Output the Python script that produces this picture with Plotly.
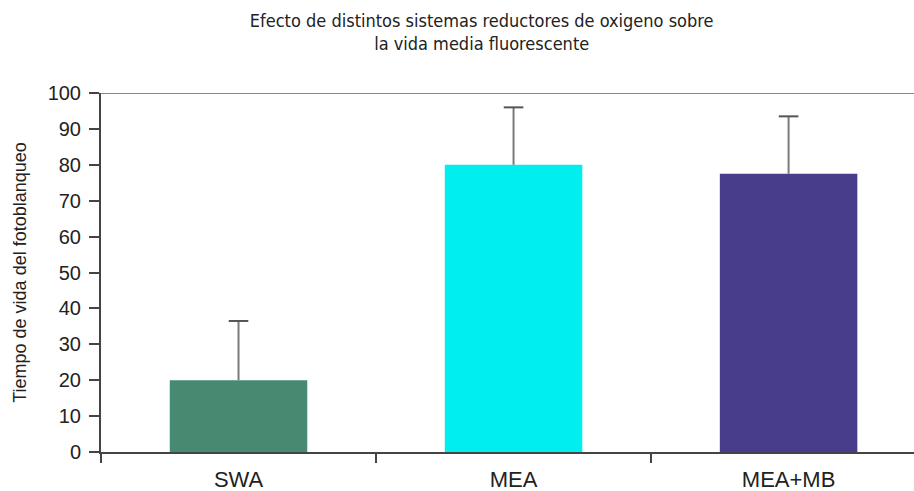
import plotly.graph_objects as go

# Oxygen-scavenging systems and their photobleaching lifetimes
categories = ["SWA", "MEA", "MEA+MB"]
values = [20, 80, 77.5]
errors_up = [16.5, 16, 16]
bar_colors = ["#468a71", "#00eeee", "#483d8b"]

title_text = ("Efecto de distintos sistemas reductores de oxigeno sobre<br>"
              "la vida media fluorescente")
y_title = "Tiempo de vida del fotoblanqueo"
y_ticks = list(range(0, 101, 10))

# upper whisker ends, for the caps
whisker_tops = [v + e for v, e in zip(values, errors_up)]

fig = go.Figure()
fig.add_trace(
    go.Bar(
        x=categories,
        y=values,
        width=0.5,
        marker=dict(color=bar_colors, line=dict(width=0)),
        error_y=dict(
            type="data",
            symmetric=False,
            array=errors_up,
            arrayminus=[0] * len(values),
            color="#7a7a7a",
            thickness=2,
            width=0,
        ),
        hoverinfo="skip",
    )
)
# caps only on the upper end of the whiskers
fig.add_trace(
    go.Scatter(
        x=categories,
        y=whisker_tops,
        mode="markers",
        marker=dict(symbol="line-ew", size=14,
                    line=dict(color="#555555", width=2)),
        hoverinfo="skip",
    )
)

fig.update_layout(
    width=914,
    height=491,
    margin=dict(l=101, r=0, t=93, b=39),
    paper_bgcolor="white",
    plot_bgcolor="white",
    showlegend=False,
    font=dict(family="Liberation Sans, Arial, sans-serif", color="#222222"),
    title=dict(
        text=title_text,
        x=0.527,
        xanchor="center",
        y=0.945,
        yanchor="top",
        font=dict(family="Liberation Sans Narrow, DejaVu Sans Condensed, sans-serif",
                  size=18, color="#222222"),
    ),
    xaxis=dict(
        range=[-0.5, 2.456],
        automargin=False,
        showline=True,
        linecolor="#444444",
        linewidth=2,
        ticks="outside",
        tickson="boundaries",
        ticklen=9,
        tickwidth=2,
        tickcolor="#444444",
        ticklabelstandoff=7,
        showgrid=False,
        tickfont=dict(size=22),
    ),
    yaxis=dict(
        range=[0, 100],
        automargin=False,
        tickvals=y_ticks,
        showline=True,
        linecolor="#444444",
        linewidth=2,
        ticks="outside",
        ticklen=10,
        tickwidth=2,
        tickcolor="#444444",
        ticklabelstandoff=4,
        showgrid=False,
        zeroline=False,
        tickfont=dict(size=20),
        title=dict(text=y_title, font=dict(size=18), standoff=16),
    ),
    shapes=[
        dict(type="line", xref="paper", yref="y", x0=0, x1=1, y0=100, y1=100,
             line=dict(color="#888888", width=2), layer="below"),
    ],
)

fig.write_html("out.html")
